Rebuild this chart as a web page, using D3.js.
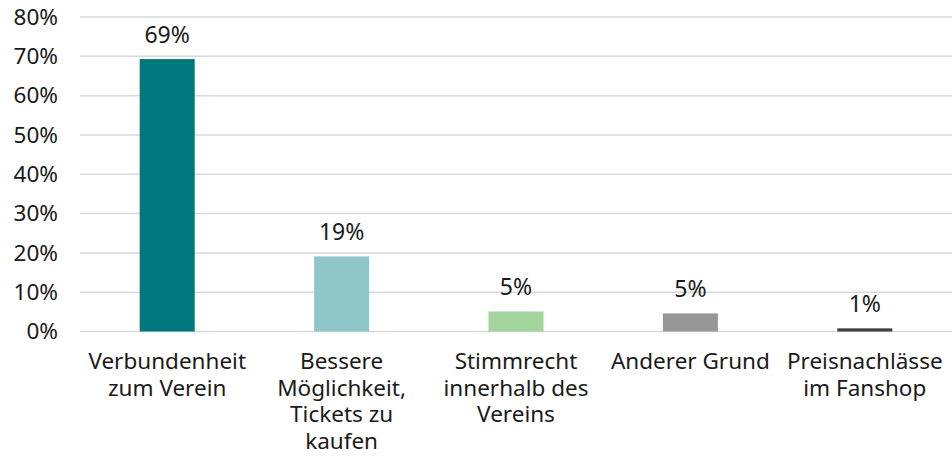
<!DOCTYPE html>
<html>
<head>
<meta charset="utf-8">
<script src="https://cdn.jsdelivr.net/npm/d3@7"></script>
<style>
  body { margin: 0; background: #fff; }
  text { font-family: "Noto Sans", "Open Sans", sans-serif; fill: #1a1a1a; }
</style>
</head>
<body>
<div id="chart"></div>
<script>
/* DATA */
const categories = [
  ["Verbundenheit", "zum Verein"],
  ["Bessere", "Möglichkeit,", "Tickets zu", "kaufen"],
  ["Stimmrecht", "innerhalb des", "Vereins"],
  ["Anderer Grund"],
  ["Preisnachlässe", "im Fanshop"]
];
const values = [69.3, 19.1, 5.1, 4.6, 0.8];
const valueLabels = ["69%", "19%", "5%", "5%", "1%"];
const colors = ["#00777a", "#8fc6c8", "#a3d49e", "#969696", "#404040"];
const yTicks = [0, 10, 20, 30, 40, 50, 60, 70, 80];

/* CONSTANTS */
const width = 952, height = 456;
const margin = { top: 17, right: 0, bottom: 125, left: 80 };

const svg = d3.select("#chart").append("svg")
  .attr("width", width)
  .attr("height", height);

const xScale = d3.scaleBand()
  .domain(d3.range(categories.length))
  .range([margin.left, width - margin.right])
  .paddingInner(0)
  .paddingOuter(0);

const yScale = d3.scaleLinear()
  .domain([0, 80])
  .range([height - margin.bottom + 0.5, margin.top]);

// gridlines
svg.append("g")
  .selectAll("line")
  .data(yTicks)
  .join("line")
  .attr("x1", margin.left)
  .attr("x2", width - margin.right)
  .attr("y1", d => yScale(d))
  .attr("y2", d => yScale(d))
  .attr("stroke", "#d9d9d9")
  .attr("stroke-width", 1.5);

// y axis labels
const yAxis = d3.axisLeft(yScale)
  .tickValues(yTicks)
  .tickFormat(d => d + "%")
  .tickSize(0)
  .tickPadding(0);

svg.append("g")
  .attr("transform", `translate(${margin.left - 22},0)`)
  .call(yAxis)
  .call(g => g.select(".domain").remove())
  .call(g => g.selectAll("text")
    .attr("font-size", "22.5px")
    .attr("font-family", "'Open Sans', sans-serif")
    .attr("fill", "#1a1a1a"));

// bars
const barW = 55;
svg.append("g")
  .selectAll("rect")
  .data(values)
  .join("rect")
  .attr("x", (d, i) => xScale(i) + xScale.bandwidth() / 2 - barW / 2)
  .attr("width", barW)
  .attr("y", d => yScale(d))
  .attr("height", d => yScale(0) - yScale(d))
  .attr("fill", (d, i) => colors[i]);

// value labels
svg.append("g")
  .selectAll("text")
  .data(values)
  .join("text")
  .attr("x", (d, i) => xScale(i) + xScale.bandwidth() / 2)
  .attr("y", d => yScale(d) - 16)
  .attr("text-anchor", "middle")
  .attr("font-size", "23px")
  .text((d, i) => valueLabels[i]);

// category labels
const catG = svg.append("g")
  .selectAll("text")
  .data(categories)
  .join("text")
  .attr("x", (d, i) => xScale(i) + xScale.bandwidth() / 2)
  .attr("y", 369)
  .attr("text-anchor", "middle")
  .attr("font-size", "22.5px");

catG.selectAll("tspan")
  .data(d => d)
  .join("tspan")
  .attr("x", function() { return this.parentNode.getAttribute("x"); })
  .attr("dy", (d, i) => i === 0 ? 0 : 26.7)
  .text(d => d);
</script>
</body>
</html>
